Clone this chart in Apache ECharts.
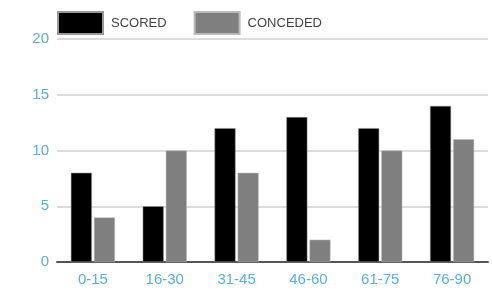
<!DOCTYPE html>
<html>
<head>
<meta charset="utf-8">
<script src="https://cdn.jsdelivr.net/npm/echarts@6/dist/echarts.min.js"></script>
<style>
html,body{margin:0;padding:0;background:#fff;}
#main{width:492px;height:292px;}
</style>
</head>
<body>
<div id="main"></div>
<script>
// 数据
var periods = ['0-15', '16-30', '31-45', '46-60', '61-75', '76-90'];
var scored = [8, 5, 12, 13, 12, 14];
var conceded = [4, 10, 8, 2, 10, 11];

var font = '"Liberation Sans", sans-serif';
var chart = echarts.init(document.getElementById('main'));
chart.setOption({
    animation: false,
    textStyle: {fontFamily: font},
    legend: {
        left: 52,
        top: 6,
        itemWidth: 45,
        itemHeight: 22,
        itemGap: 27,
        icon: 'rect',
        textStyle: {fontSize: 13, color: '#444', fontFamily: font, padding: [2, 0, 0, 3]},
        data: ['SCORED', 'CONCEDED']
    },
    grid: {left: 57, right: 4, top: 39, bottom: 30},
    xAxis: {
        type: 'category',
        data: periods,
        axisTick: {show: false},
        axisLine: {lineStyle: {color: '#555', width: 2}},
        axisLabel: {color: '#5aaee0', fontSize: 15, margin: 10, fontFamily: font}
    },
    yAxis: {
        type: 'value',
        min: 0,
        max: 20,
        interval: 5,
        axisLine: {show: false},
        axisTick: {show: false},
        axisLabel: {color: '#5aaee0', fontSize: 15, margin: 8, fontFamily: font},
        splitLine: {lineStyle: {color: '#d0d0d0', width: 1.5}}
    },
    series: [
        {
            name: 'SCORED',
            type: 'bar',
            data: scored,
            barWidth: 21,
            barGap: '10%',
            itemStyle: {color: '#000', borderColor: '#999', borderWidth: 0.5}
        },
        {
            name: 'CONCEDED',
            type: 'bar',
            data: conceded,
            barWidth: 21,
            itemStyle: {color: '#7f7f7f', borderColor: '#bbb', borderWidth: 0.5}
        }
    ]
});
</script>
</body>
</html>
